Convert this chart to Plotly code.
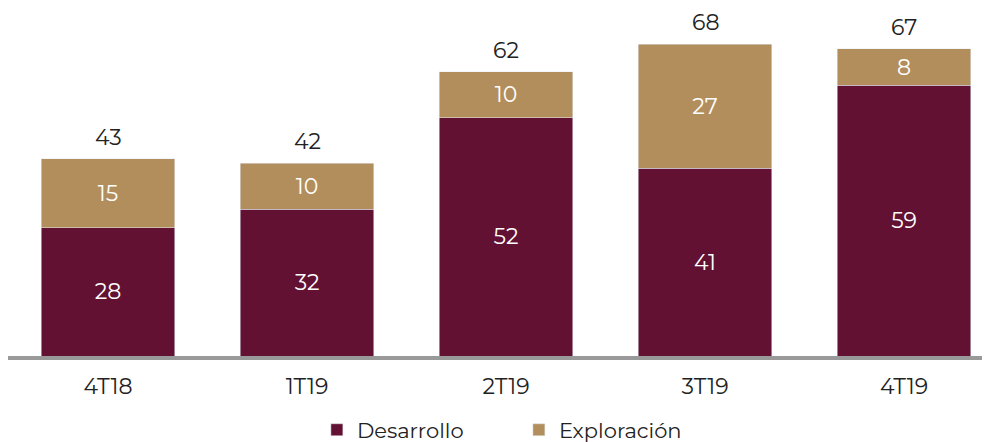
import plotly.graph_objects as go

periods = ["4T18", "1T19", "2T19", "3T19", "4T19"]
desarrollo = [28, 32, 52, 41, 59]
exploracion = [15, 10, 10, 27, 8]
totales = [43, 42, 62, 68, 67]

fig = go.Figure()
fig.add_trace(go.Bar(
    x=periods, y=desarrollo, name="Desarrollo",
    marker=dict(color="#621132"),
    text=desarrollo, textposition="inside", insidetextanchor="middle",
    textfont=dict(color="white", size=22), textangle=0,
))
fig.add_trace(go.Bar(
    x=periods, y=exploracion, name="Exploración",
    marker=dict(color="#B38E5D"),
    text=exploracion, textposition="inside", insidetextanchor="middle",
    textfont=dict(color="white", size=22), textangle=0,
))

# totals above the stacks
for p, t in zip(periods, totales):
    fig.add_annotation(x=p, y=t, text=str(t), showarrow=False,
                       yanchor="bottom", yshift=6,
                       font=dict(size=22, color="#222222"))

fig.update_layout(
    barmode="stack",
    bargap=0.33,
    width=990, height=442,
    margin=dict(l=0, r=0, t=0, b=94, autoexpand=False),
    plot_bgcolor="white", paper_bgcolor="white",
    font=dict(family="Montserrat, Lato, Open Sans, sans-serif", color="#222222"),
    xaxis=dict(
        range=[-0.5025, 4.472],
        showline=True, linecolor="#999999", linewidth=4,
        ticks="", tickfont=dict(size=22), ticklabelstandoff=8,
    ),
    yaxis=dict(range=[0, 75.9], visible=False),
    legend=dict(orientation="h", x=0.312, xanchor="left",
                y=0.045, yref="container", yanchor="middle",
                font=dict(size=21), itemwidth=30, traceorder="normal",
                entrywidth=157, entrywidthmode="pixels"),
    showlegend=True,
)

fig.write_html("out.html")
